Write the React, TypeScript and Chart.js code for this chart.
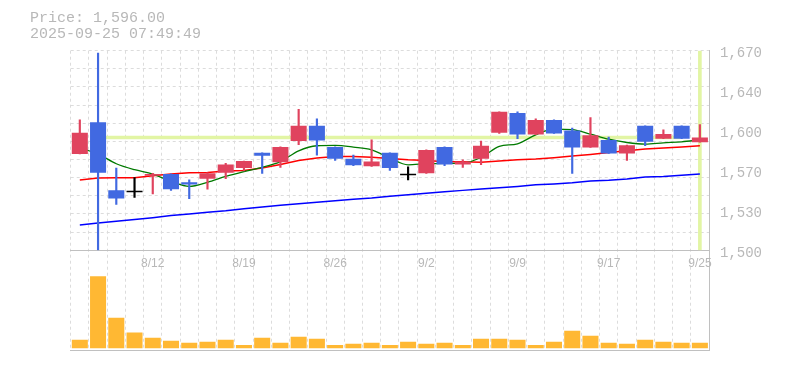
import React, { useEffect, useRef } from 'react';
import { Chart, registerables } from 'chart.js';

Chart.register(...registerables);

// ---- data ----
const dates = ['8/5','8/6','8/7','8/8','8/12','8/13','8/14','8/15','8/18','8/19','8/20','8/21','8/22','8/25','8/26','8/27','8/28','8/29','9/1','9/2','9/3','9/4','9/5','9/8','9/9','9/10','9/11','9/12','9/16','9/17','9/18','9/19','9/22','9/24','9/25'];
const opens  = [1582,1609,1551,1550,1563.5,1565,1558,1561,1566,1570,1583,1575,1593,1606,1588,1578,1571.5,1583,1564.5,1565.5,1588,1573,1578,1600,1617,1598.5,1611,1602,1587.5,1594,1582.5,1606,1595,1606,1592];
const highs  = [1611,1668,1570,1562,1565.5,1565,1560,1566,1574,1576,1583,1588,1620,1612,1588,1581,1594,1583,1571,1585.5,1588,1577,1593,1618,1618,1612,1611,1604,1613,1596.5,1589.5,1606,1602.5,1606,1607];
const lows   = [1582,1500,1539,1545,1548,1551,1544,1552,1561,1567.5,1565.5,1570.5,1590,1581,1576.5,1572,1571.5,1568,1560,1565.5,1572,1570.5,1573,1599.5,1595,1598.5,1599.5,1565.5,1587.5,1582.5,1576.5,1589,1595,1595,1592];
const closes = [1600,1566,1544,1550,1565,1552,1556,1565.5,1573,1576,1580.5,1588,1606,1593.5,1578,1572.3,1575.5,1570,1564.5,1585.5,1573,1575.5,1589,1618,1598.5,1611,1599.5,1587.5,1598,1582.5,1589.5,1592.5,1599,1595,1596];
const volumes = [83,717,303,157,103,73,53,63,83,33,103,53,113,93,33,43,53,33,63,43,53,33,93,93,83,33,63,173,123,53,43,83,63,53,53];
const ma5  = [1587,1582,1573.7,1568.6,1564.9,1558.7,1554.4,1557.9,1562.9,1567,1570.6,1575.5,1584.7,1589,1589.3,1587.9,1585.6,1578.5,1572.8,1573.7,1574,1574.3,1579,1588.4,1590.7,1598.3,1603.2,1602.7,1598.9,1594.6,1591.8,1590.4,1591.5,1592.4,1594.1];
const ma25 = [1559.8,1561.5,1561.8,1561.8,1563.5,1564.9,1566,1566.3,1567.5,1568,1570,1573,1576.5,1578.5,1579.9,1579.9,1579.3,1578.2,1577.1,1576.5,1575.4,1575.4,1575,1576,1577.1,1577.7,1578.8,1580.2,1581.6,1583.3,1584.7,1586.2,1587,1587.9,1589];
const ma75 = [1521.6,1523.1,1524.6,1526.2,1527.7,1529.5,1530.8,1532.3,1533.6,1535.3,1536.9,1538.4,1539.7,1540.9,1542.2,1543.5,1544.5,1546,1547.2,1548.5,1549.8,1551,1552.2,1553.3,1554.4,1555.8,1556.5,1557.5,1559,1559.6,1560.7,1562.3,1562.8,1563.8,1564.9];

const yTickValues = [1500, 1534, 1568, 1602, 1636, 1670];
const yTickLabels = ['1,500', '1,530', '1,570', '1,600', '1,640', '1,670'];
const xLabelDates = ['8/12', '8/19', '8/26', '9/2', '9/9', '9/17', '9/25'];
const lastPrice = 1596;
const priceText = 'Price: 1,596.00';
const timeText = '2025-09-25 07:49:49';

const PRICE_MIN = 1500;
const PRICE_MAX = 1670;
const VOL_MIN = -18;
const VOL_MAX = 975;
const GRID_DIVS = 11;

// ---- style ----
const UP = '#e0435e';
const DOWN = '#4169e1';
const DOJI = '#000000';
const VOL = '#ffb833';
const CROSS = '#e2f5a4';
const GRID = '#dcdcdc';
const AXIS = '#c0c0c0';
const TEXT = '#b8b8b8';

const candleColor = (i: number) =>
  closes[i] > opens[i] ? UP : closes[i] < opens[i] ? DOWN : DOJI;

export default function App() {
  const ref = useRef<HTMLCanvasElement | null>(null);

  useEffect(() => {
    const canvas = ref.current;
    if (!canvas) return;
    const gridVals: number[] = [];
    for (let k = 0; k <= GRID_DIVS; k++) gridVals.push(PRICE_MIN + (k * (PRICE_MAX - PRICE_MIN)) / GRID_DIVS);
    const isGrid = (v: number) => gridVals.some((g) => Math.abs(g - v) < 1e-6);
    const labelIdx = (v: number) => yTickValues.findIndex((t) => Math.abs(t - v) < 1e-6);
    const last = dates.length - 1;
    const colors = dates.map((_, i) => candleColor(i));

    const chart = new Chart(canvas, {
      type: 'bar',
      data: {
        labels: dates,
        datasets: [
          {
            type: 'line',
            label: 'hcross',
            data: [{ x: 0, y: lastPrice }, { x: 1, y: lastPrice }],
            xAxisID: 'xl',
            yAxisID: 'price',
            borderColor: CROSS,
            borderWidth: 3.5,
            pointRadius: 0,
            order: 20,
          } as any,
          {
            type: 'bar',
            label: 'vcross',
            data: dates.map((_, i) => (i === last ? [PRICE_MIN, PRICE_MAX] : null)),
            xAxisID: 'x',
            yAxisID: 'price',
            backgroundColor: CROSS,
            barThickness: 3,
            grouped: false,
            order: 19,
          } as any,
          {
            type: 'bar',
            label: 'volume',
            data: volumes,
            xAxisID: 'x',
            yAxisID: 'vol',
            backgroundColor: VOL,
            barPercentage: 0.88,
            categoryPercentage: 1,
            grouped: false,
            order: 15,
          } as any,
          {
            type: 'line',
            label: 'MA75',
            data: ma75,
            xAxisID: 'x',
            yAxisID: 'price',
            borderColor: '#0000ff',
            borderWidth: 1.5,
            pointRadius: 0,
            tension: 0,
            order: 12,
          } as any,
          {
            type: 'line',
            label: 'MA25',
            data: ma25,
            xAxisID: 'x',
            yAxisID: 'price',
            borderColor: '#ff0000',
            borderWidth: 1.5,
            pointRadius: 0,
            tension: 0,
            order: 11,
          } as any,
          {
            type: 'line',
            label: 'MA5',
            data: ma5,
            xAxisID: 'x',
            yAxisID: 'price',
            borderColor: '#007a00',
            borderWidth: 1.3,
            pointRadius: 0,
            cubicInterpolationMode: 'monotone',
            order: 10,
          } as any,
          {
            type: 'bar',
            label: 'wick',
            data: lows.map((l, i) => [l, highs[i]]),
            xAxisID: 'x',
            yAxisID: 'price',
            backgroundColor: colors,
            barThickness: 1.5,
            grouped: false,
            order: 3,
          } as any,
          {
            type: 'bar',
            label: 'body',
            data: opens.map((o, i) => [o, closes[i]]),
            xAxisID: 'x',
            yAxisID: 'price',
            backgroundColor: colors,
            barPercentage: 0.88,
            categoryPercentage: 1,
            grouped: false,
            order: 2,
          } as any,
          {
            type: 'line',
            label: 'doji',
            data: opens.map((o, i) => (o === closes[i] ? o : null)),
            xAxisID: 'x',
            yAxisID: 'price',
            showLine: false,
            pointStyle: 'line',
            pointRadius: 8,
            pointBorderWidth: 1.6,
            borderColor: DOJI,
            backgroundColor: DOJI,
            order: 1,
          } as any,
        ],
      },
      options: {
        animation: false,
        responsive: false,
        devicePixelRatio: 1,
        events: [],
        layout: { padding: { left: 70.7, top: 50.7, right: 0, bottom: 20 } },
        plugins: { legend: { display: false }, tooltip: { enabled: false }, title: { display: false } },
        scales: {
          price: {
            type: 'linear',
            axis: 'y',
            position: 'right',
            stack: 'r',
            stackWeight: 2,
            min: PRICE_MIN,
            max: PRICE_MAX,
            afterBuildTicks: (s: any) => {
              const vals = [...gridVals];
              yTickValues.forEach((v) => { if (!isGrid(v)) vals.push(v); });
              vals.sort((a, b) => a - b);
              s.ticks = vals.map((v) => ({ value: v }));
            },
            afterFit: (s: any) => { s.width = 76; },
            grid: {
              drawTicks: false,
              color: (c: any) => (c.tick && isGrid(c.tick.value) ? GRID : 'rgba(0,0,0,0)'),
              lineWidth: 1,
            },
            border: { display: true, color: AXIS, dash: [3, 3] },
            ticks: {
              autoSkip: false,
              color: TEXT,
              padding: 11,
              labelOffset: 3,
              font: { family: 'Liberation Mono', size: 14 },
              callback: (v: any) => {
                const i = labelIdx(Number(v));
                return i >= 0 ? yTickLabels[i] : '';
              },
            },
          },
          vol: {
            type: 'linear',
            axis: 'y',
            position: 'right',
            stack: 'r',
            stackWeight: 1,
            min: VOL_MIN,
            max: VOL_MAX,
            afterFit: (s: any) => { s.width = 76; },
            grid: { display: false },
            ticks: { display: false },
            border: { display: true, color: AXIS },
          },
          x: {
            type: 'category',
            position: 'bottom',
            offset: true,
            afterFit: (s: any) => { s.height = 0; },
            grid: { display: true, offset: true, drawTicks: false, color: GRID, lineWidth: 1 },
            border: { display: true, color: AXIS, dash: [3, 3] },
            ticks: { display: false },
          },
          x2: {
            type: 'category',
            axis: 'x',
            labels: dates,
            position: { price: PRICE_MIN },
            offset: true,
            grid: { display: false, drawTicks: false },
            border: { display: true, color: AXIS },
            ticks: {
              autoSkip: false,
              maxRotation: 0,
              color: TEXT,
              padding: 6,
              font: { family: 'Liberation Sans', size: 12 },
              callback: (_v: any, i: number) => (xLabelDates.includes(dates[i]) ? dates[i] : ''),
            },
          },
          xl: { type: 'linear', axis: 'x', min: 0, max: 1, display: false },
        } as any,
      },
    });
    return () => chart.destroy();
  }, []);

  return (
    <div style={{ position: 'fixed', left: 0, top: 0, width: 785, height: 370, background: '#fff' }}>
      <canvas ref={ref} width={785} height={370} style={{ position: 'absolute', left: 0, top: 0, width: 785, height: 370 }} />
      <div
        style={{
          position: 'absolute',
          left: 30,
          top: 11,
          fontFamily: 'Liberation Mono, monospace',
          fontSize: 15,
          lineHeight: '15.6px',
          color: TEXT,
          whiteSpace: 'pre',
        }}
      >
        <div>{priceText}</div>
        <div>{timeText}</div>
      </div>
    </div>
  );
}
